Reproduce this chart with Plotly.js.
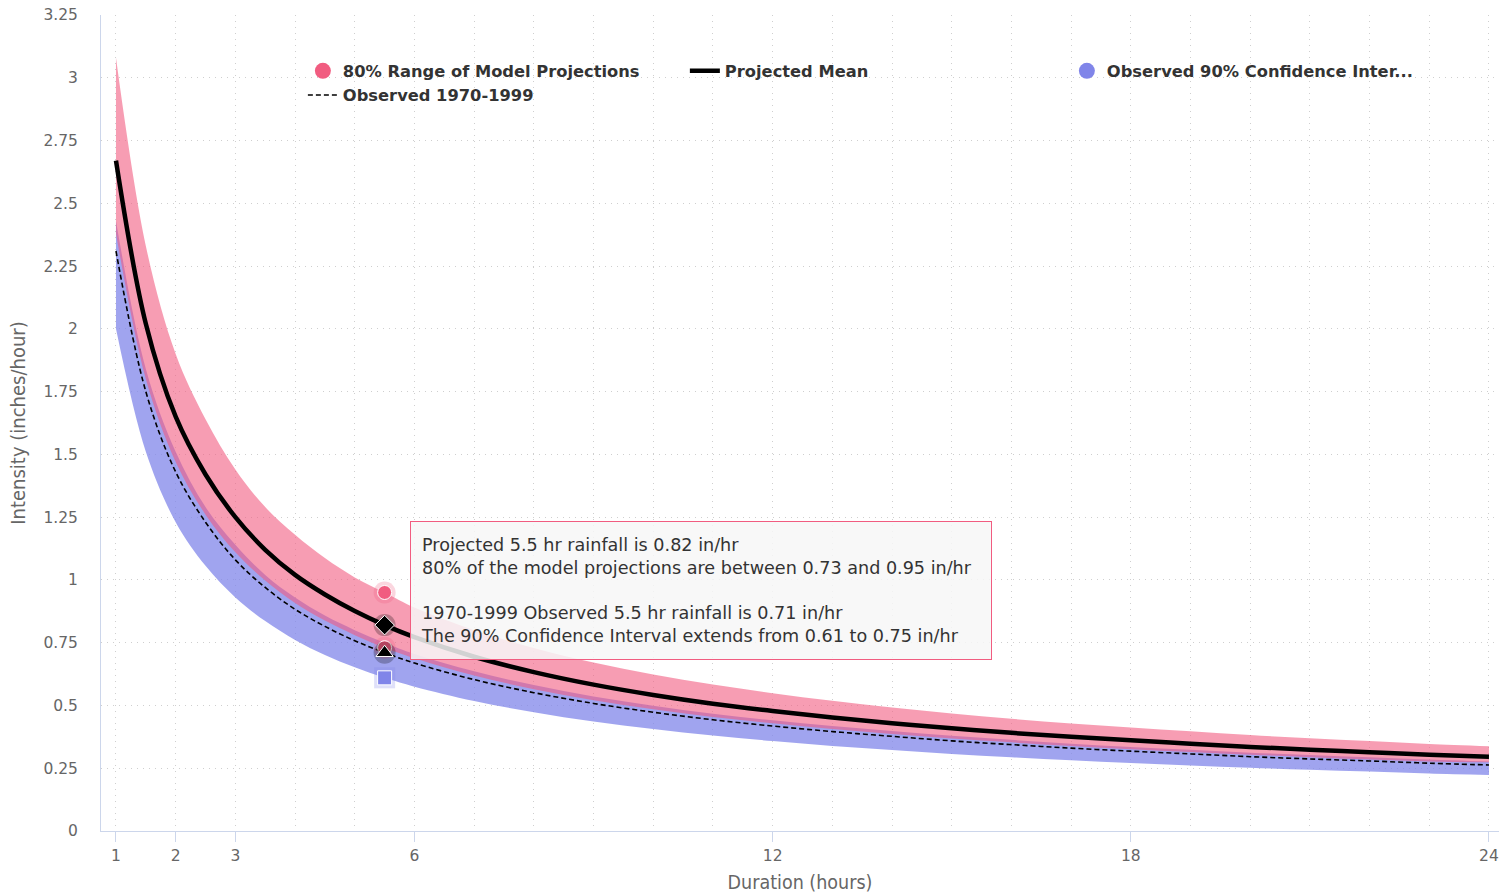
<!DOCTYPE html>
<html><head><meta charset="utf-8">
<script src="https://cdn.plot.ly/plotly-3.0.1.min.js"></script>
<style>html,body{margin:0;padding:0;background:#fff}#chart{width:1501px;height:894px}</style>
</head><body><div id="chart"></div>
<script>
// ---- data ----
const durations      = [1,1.5,2,2.5,3,3.5,4,4.5,5,5.5,6,7,8,9,10,11,12,13,14,15,16,17,18,19,20,21,22,23,24];
const projectedMean  = [2.67,2.02,1.65,1.42,1.25,1.12,1.02,0.942,0.876,0.82,0.772,0.694,0.633,0.583,0.542,0.507,0.478,0.452,0.429,0.409,0.391,0.375,0.361,0.348,0.335,0.324,0.314,0.304,0.296];
const projectedHigh80= [3.08,2.33,1.90,1.64,1.44,1.29,1.18,1.087,1.01,0.95,0.89,0.80,0.729,0.671,0.623,0.583,0.549,0.519,0.492,0.468,0.447,0.428,0.412,0.397,0.382,0.369,0.358,0.347,0.338];
const projectedLow80 = [2.38,1.80,1.47,1.26,1.11,0.998,0.908,0.838,0.780,0.73,0.688,0.619,0.565,0.521,0.485,0.454,0.429,0.406,0.386,0.368,0.353,0.339,0.326,0.315,0.304,0.294,0.285,0.277,0.274];
const observedMean   = [2.31,1.75,1.43,1.23,1.08,0.970,0.883,0.815,0.758,0.71,0.669,0.603,0.551,0.508,0.473,0.443,0.418,0.396,0.377,0.359,0.344,0.330,0.318,0.307,0.296,0.287,0.279,0.270,0.263];
const observedHigh90 = [2.43,1.84,1.51,1.29,1.14,1.02,0.93,0.858,0.80,0.75,0.705,0.636,0.581,0.536,0.499,0.467,0.441,0.418,0.398,0.379,0.363,0.348,0.335,0.324,0.312,0.303,0.294,0.285,0.277];
const observedLow90  = [2.0,1.51,1.23,1.056,0.930,0.836,0.761,0.701,0.652,0.61,0.575,0.518,0.473,0.436,0.406,0.380,0.358,0.339,0.323,0.307,0.294,0.282,0.271,0.261,0.252,0.244,0.237,0.229,0.223];

const xTickVals = [1,2,3,6,12,18,24];
const yTickVals = [0,0.25,0.5,0.75,1,1.25,1.5,1.75,2,2.25,2.5,2.75,3,3.25];
const yTickText = ['0','0.25','0.5','0.75','1','1.25','1.5','1.75','2','2.25','2.5','2.75','3','3.25'];

// hovered point (tooltip)
const hoverDuration = 5.5;
const hoverProjMean = 0.82, hoverProjLow = 0.73, hoverProjHigh = 0.95;
const hoverObsMean = 0.71, hoverObsLow = 0.61, hoverObsHigh = 0.75;

const nameProjRange = '80% Range of Model Projections';
const nameProjMean  = 'Projected Mean';
const nameObsRange  = 'Observed 90% Confidence Inter...';
const nameObsMean   = 'Observed 1970-1999';

const PINK = '#f15c80', BLUE = '#8085e9';
const PINK_FILL = 'rgba(241,92,128,0.6)', BLUE_FILL = 'rgba(128,133,233,0.75)';

const traces = [
  // observed 90% band
  {x: durations, y: observedLow90, mode:'lines', line:{width:0, shape:'spline', color:BLUE}, showlegend:false, hoverinfo:'skip'},
  {x: durations, y: observedHigh90, mode:'lines', line:{width:0, shape:'spline', color:BLUE}, fill:'tonexty', fillcolor:BLUE_FILL, showlegend:false, hoverinfo:'skip'},
  // projected 80% band
  {x: durations, y: projectedLow80, mode:'lines', line:{width:0, shape:'spline', color:PINK}, showlegend:false, hoverinfo:'skip'},
  {x: durations, y: projectedHigh80, mode:'lines', line:{width:0, shape:'spline', color:PINK}, fill:'tonexty', fillcolor:PINK_FILL, showlegend:false, hoverinfo:'skip'},
  // lines
  {x: durations, y: observedMean, mode:'lines', name:nameObsMean, legendrank:4, line:{color:'#000', width:1.6, dash:'5px,3px', shape:'spline'}, hoverinfo:'skip'},
  {x: durations, y: projectedMean, mode:'lines', name:nameProjMean, legendrank:2, line:{color:'#000', width:4.5, shape:'spline'}, hoverinfo:'skip'},
  // hover halos + markers
  {x:[hoverDuration], y:[hoverObsLow], mode:'markers', marker:{symbol:'square', size:21, color:'rgba(128,133,233,0.25)'}, showlegend:false, hoverinfo:'skip'},
  {x:[hoverDuration], y:[hoverObsLow], mode:'markers', marker:{symbol:'square', size:14, color:BLUE, line:{color:'#fff', width:1}}, showlegend:false, hoverinfo:'skip'},
  {x:[hoverDuration,hoverDuration], y:[hoverProjHigh,hoverProjLow], mode:'markers', marker:{symbol:'circle', size:22, color:'rgba(241,92,128,0.25)'}, showlegend:false, hoverinfo:'skip'},
  {x:[hoverDuration,hoverDuration], y:[hoverProjHigh,hoverProjLow], mode:'markers', marker:{symbol:'circle', size:14, color:PINK, line:{color:'#fff', width:1}}, showlegend:false, hoverinfo:'skip'},
  {x:[hoverDuration,hoverDuration], y:[hoverProjMean,hoverObsMean], mode:'markers', marker:{symbol:'circle', size:22, color:'rgba(0,0,0,0.25)'}, showlegend:false, hoverinfo:'skip'},
  {x:[hoverDuration], y:[hoverProjMean], mode:'markers', marker:{symbol:'diamond', size:15, color:'#000', line:{color:'#fff', width:1}}, showlegend:false, hoverinfo:'skip'},
  {x:[hoverDuration], y:[hoverObsMean], mode:'markers', marker:{symbol:'triangle-up', size:15, color:'#000', line:{color:'#fff', width:1}}, showlegend:false, hoverinfo:'skip'},
  // legend entries for the bands
  {x:[null], y:[null], mode:'markers', name:nameProjRange, legendrank:1, marker:{symbol:'circle', size:16, color:PINK}, hoverinfo:'skip'},
  {x:[null], y:[null], mode:'markers', name:nameObsRange, legendrank:3, marker:{symbol:'circle', size:16, color:BLUE}, hoverinfo:'skip'}
];

const tipText =
  'Projected ' + hoverDuration + ' hr rainfall is ' + hoverProjMean.toFixed(2) + ' in/hr<br>' +
  '80% of the model projections are between ' + hoverProjLow.toFixed(2) + ' and ' + hoverProjHigh.toFixed(2) + ' in/hr<br> <br>' +
  '1970-1999 Observed ' + hoverDuration + ' hr rainfall is ' + hoverObsMean.toFixed(2) + ' in/hr<br>' +
  'The 90% Confidence Interval extends from ' + hoverObsLow.toFixed(2) + ' to ' + hoverObsHigh.toFixed(2) + ' in/hr';

const GRID = '#cfcfcf';
const GDASH = '1px,5px';
const TITLEFONT = 'Liberation Sans Narrow, DejaVu Sans Condensed, Roboto, sans-serif';
const layout = {
  width:1501, height:894,
  margin:{l:101, r:2, t:15, b:63},
  paper_bgcolor:'#fff', plot_bgcolor:'#fff',
  font:{family:'DejaVu Sans, sans-serif', size:15, color:'#666'},
  showlegend:true,
  legend:{orientation:'h', x:0.1444, xanchor:'left', y:0.9525, yanchor:'top',
          entrywidth:337, entrywidthmode:'pixels', traceorder:'normal',
          font:{family:'DejaVu Sans, sans-serif', size:16.3, color:'#333', weight:'bold'},
          bgcolor:'rgba(0,0,0,0)', tracegroupgap:0, itemclick:false},
  xaxis:{range:[0.749,24.168], tickvals:xTickVals, ticktext:xTickVals.map(String),
         showgrid:true, gridcolor:GRID, griddash:GDASH, gridwidth:1,
         minor:{tick0:1, dtick:1, showgrid:true, gridcolor:GRID, griddash:GDASH, gridwidth:1, ticks:''},
         ticks:'outside', ticklen:10, tickcolor:'#ccd6eb', tickwidth:1,
         showline:true, linecolor:'#ccd6eb', linewidth:1, zeroline:false,
         tickfont:{size:15.5, color:'#666'},
         title:{text:'Duration (hours)', font:{family:TITLEFONT, size:19.5, color:'#666'}}},
  yaxis:{range:[0,3.25], tickvals:yTickVals, ticktext:yTickText,
         showgrid:true, gridcolor:GRID, griddash:GDASH, gridwidth:1,
         ticks:'', ticklabelstandoff:19,
         showline:true, linecolor:'#ccd6eb', linewidth:1, zeroline:false,
         tickfont:{size:15.5, color:'#666'},
         title:{text:'Intensity (inches/hour)', standoff:12, font:{family:TITLEFONT, size:20, color:'#666'}}},
  annotations:[{
    xref:'paper', yref:'paper', x:(410-101)/1398, y:(831-521)/816, xanchor:'left', yanchor:'top',
    text: tipText, showarrow:false, align:'left', valign:'middle',
    width:560, height:117, borderpad:10,
    bgcolor:'rgba(247,247,247,0.85)', bordercolor:PINK, borderwidth:1,
    font:{family:'DejaVu Sans, sans-serif', size:17.6, color:'#333'}
  }]
};

Plotly.newPlot('chart', traces, layout, {displayModeBar:false, staticPlot:true});
</script>
</body></html>
